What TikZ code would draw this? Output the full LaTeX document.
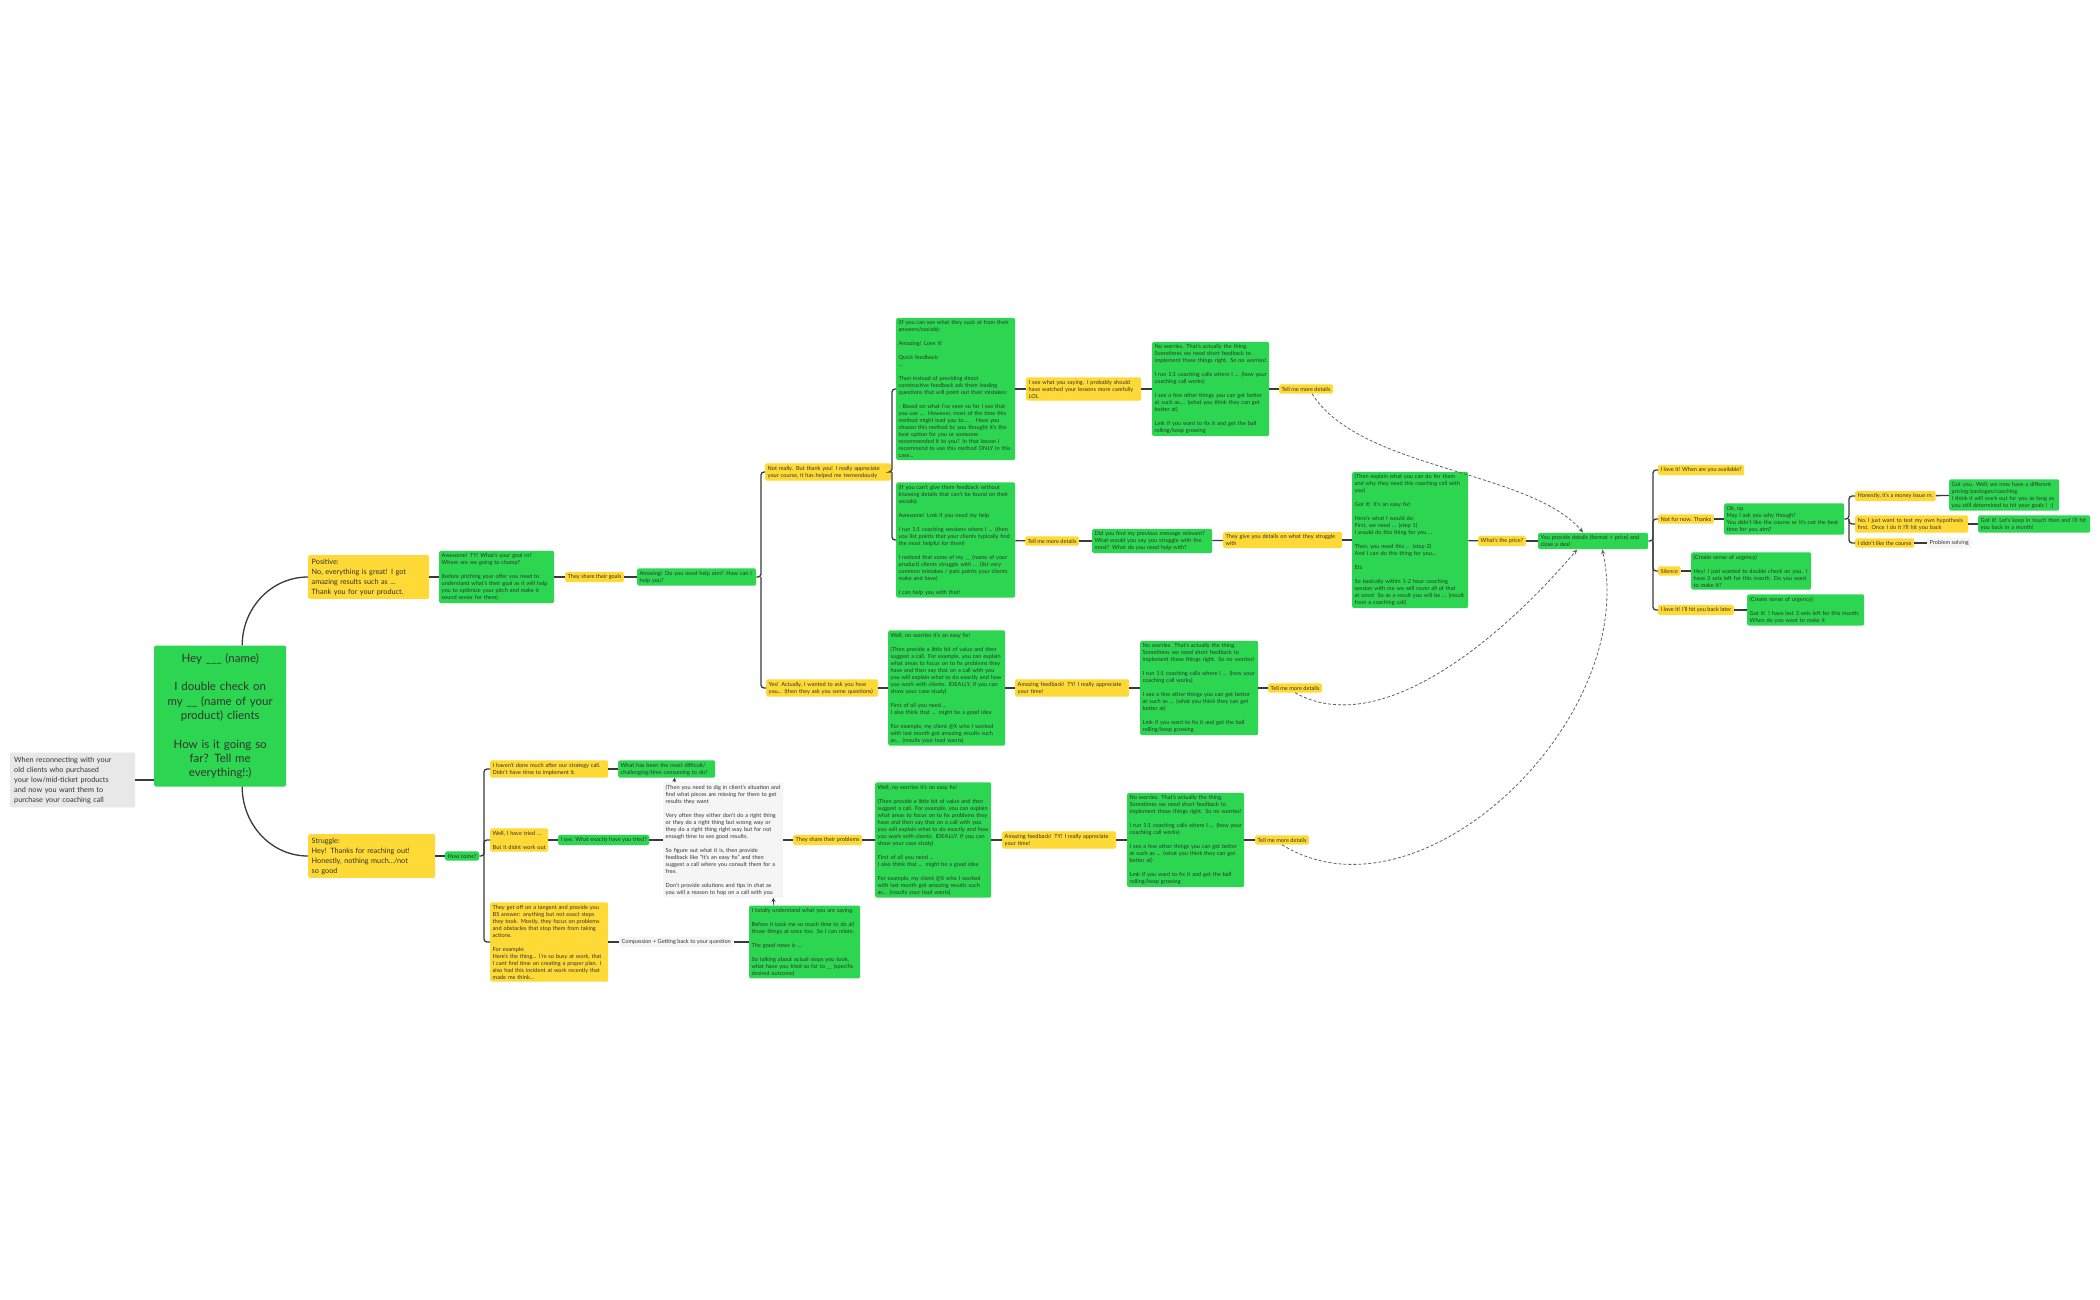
\documentclass[tikz,border=0pt]{standalone}
\usepackage{fontspec}
\usepackage[none]{hyphenat}
\setmainfont{Lato}
\usetikzlibrary{arrows.meta}
\definecolor{mmgreen}{HTML}{2CD650}
\definecolor{mmyellow}{HTML}{FFD935}
\definecolor{mmgray}{HTML}{E8E8E8}
\definecolor{mmlight}{HTML}{F5F5F5}
\definecolor{mmtext}{HTML}{333333}
\definecolor{mmline}{HTML}{3A3A3A}
\newcommand{\gapl}{\\[\baselineskip]}
\tikzset{
 box/.style={anchor=west,rounded corners=1.5pt,align=left,inner xsep=2.5pt,inner ysep=2.5pt,text=mmtext,font=\fontsize{5.6}{7}\selectfont},
 gbox/.style={box,fill=mmgreen},
 ybox/.style={box,fill=mmyellow},
 nbox/.style={box,fill=mmlight},
 bigy/.style={ybox,font=\fontsize{7.3}{10}\selectfont,inner xsep=3.5pt,inner ysep=3.5pt},
 link/.style={draw=mmline,line width=1.3pt,rounded corners=3pt},
 dlink/.style={draw=mmline!80,line width=0.8pt,dash pattern=on 3pt off 2pt,-{Stealth[length=5pt,width=4pt]}},
 slink/.style={draw=mmline,line width=0.7pt,-{Stealth[length=4pt,width=4pt]}}
}
\begin{document}
\begin{tikzpicture}[x=1pt,y=-1pt]
\useasboundingbox[fill=white] (0,0) rectangle (2100,1300);
% root area
\node[box,fill=mmgray,font=\fontsize{7.3}{10}\selectfont,text width=117,inner xsep=4pt,inner ysep=4pt] (ctx) at (10,780) {When reconnecting with your\\old clients who purchased\\your low/mid-ticket products\\and now you want them to\\purchase your coaching call};
\node[gbox,align=center,text width=127,minimum height=141,font=\fontsize{11.5}{14.3}\selectfont] (root) at (154,716) {Hey \_\_\_ (name)\gapl I double check on\\my \_\_ (name of your\\product) clients\gapl How is it going so\\far? Tell me\\everything!:)};
\node[bigy,text width=114] (pos) at (308,577) {Positive:\\No, everything is great! I got\\amazing results such as ...\\Thank you for your product.};
\node[bigy,text width=120] (str) at (308,856) {Struggle:\\Hey! Thanks for reaching out!\\Honestly, nothing much.../not\\so good};
% positive branch
\node[gbox,text width=110] (awe) at (439,577) {Awesome! TY! What's your goal rn?\\Where are we going to champ?\gapl (before pitching your offer you need to understand what's their goal as it will help you to optimize your pitch and make it sound sexier for them)};
\node[ybox] (goals) at (565,577) {They share their goals};
\node[gbox,text width=114] (amaz) at (637,577) {Amazing! Do you need help atm? How can I help you?};
\node[ybox,text width=121] (notr) at (765,472) {Not really. But thank you! I really appreciate your course, it has helped me tremendously};
\node[ybox,text width=107] (yes) at (766,688) {Yes! Actually, I wanted to ask you how you... (then they ask you some questions)};
\node[gbox,text width=114] (g1) at (896,389) {(If you can see what they suck at from their answers/socials):\gapl Amazing! Love it!\gapl Quick feedback:\\...\gapl Then instead of providing direct\\constructive feedback ask them leading questions that will point out their mistakes:\gapl - Based on what I've seen so far I see that you use .... However, most of the time this method might lead you to.... . Have you chosen this method bc you thought it's the best option for you or someone\\recommended it to you? In that lesson I recommend to use this method ONLY in this case...};
\node[ybox,text width=110] (isee) at (1026,389) {I see what you saying. I probably should have watched your lessons more carefully LOL};
\node[gbox,text width=112] (nw1) at (1152,389) {No worries. That's actually the thing.\\Sometimes we need short feedback to implement these things right. So no worries!\gapl I run 1:1 coaching calls where I ... (how your coaching call works)\gapl I see a few other things you can get better at such as.... (what you think they can get better at)\gapl Lmk if you want to fix it and get the ball rolling/keep growing};
\node[ybox] (tm1) at (1279,389) {Tell me more details};
\node[gbox,text width=114] (g2) at (896,540) {(If you can't give them feedback without knowing details that can't be found on their socials):\gapl Awesome! Lmk if you need my help\gapl I run 1:1 coaching sessions where I ... (then you list points that your clients typically find the most helpful for them)\gapl I noticed that some of my \_\_ (name of your product) clients struggle with ... (list very common mistakes / pain points your clients make and have)\gapl I can help you with that!};
\node[ybox] (tm2) at (1025,541) {Tell me more details};
\node[gbox,text width=115] (did) at (1092,541) {Did you find my previous message relevant? What would you say you struggle with the most? What do you need help with?};
\node[ybox,text width=114] (give) at (1223,540) {They give you details on what they struggle with};
\node[gbox,text width=111] (expl) at (1352,540) {(Then explain what you can do for them and why they need this coaching call with you)\gapl Got it! It's an easy fix!\gapl Here's what I would do:\\First, we need ... (step 1)\\I would do this thing for you ...\gapl Then, you need this ... (step 2)\\And I can do this thing for you...\gapl Etc\gapl So basically within 1-2 hour coaching session with me we will cover all of that at once! So as a result you will be ... (result from a coaching call)};
\node[ybox] (price) at (1478,541) {What's the price?};
\node[gbox,text width=105] (prov) at (1538,541) {You provide details (format + price) and close a deal};
% right
\node[ybox] (love) at (1658,470) {I love it! When are you available?};
\node[ybox] (notnow) at (1658,519) {Not for now. Thanks};
\node[gbox,text width=115] (oknp) at (1724,519) {Ok, np\\May I ask you why though?\\You didn't like the course or it's not the best time for you atm?};
\node[ybox] (money) at (1855,496) {Honestly, it's a money issue rn.};
\node[gbox,text width=105] (gotyou) at (1949,495) {Got you. Well, we now have a different pricing/packages/coaching\\I think it will work out for you as long as you still determined to hit your goals ! ;)};
\node[ybox,text width=108] (test) at (1855,524) {No, I just want to test my own hypothesis first. Once I do it I'll hit you back};
\node[gbox,text width=107] (keep) at (1978,524) {Got it! Let's keep in touch then and I'll hit you back in a month!};
\node[ybox] (didnt) at (1855,543) {I didn't like the course};
\node[nbox] (prob) at (1927,543) {Problem solving};
\node[ybox] (sil) at (1658,571) {Silence};
\node[gbox,text width=115] (urg1) at (1691,571) {(Create sense of urgency)\gapl Hey! I just wanted to double check on you. I have 3 sets left for this month. Do you want to make it?};
\node[ybox] (later) at (1658,610) {I love it! I'll hit you back later};
\node[gbox,text width=112] (urg2) at (1747,610) {(Create sense of urgency)\gapl Got it! I have last 3 sets left for this month. When do you want to make it};
% yes chain
\node[gbox,text width=112] (wellno) at (888,688) {Well, no worries it's an easy fix!\gapl (Then provide a little bit of value and then suggest a call. For example, you can explain what areas to focus on to fix problems they have and then say that on a call with you you will explain what to do exactly and how you work with clients. IDEALLY, if you can show your case study)\gapl First of all you need ...\\I also think that ... might be a good idea\gapl For example, my client @X who I worked with last month got amazing results such as... (results your lead wants)};
\node[ybox,text width=109] (amfb) at (1015,688) {Amazing feedback! TY! I really appreciate your time!};
\node[gbox,text width=113] (nw2) at (1140,688) {No worries. That's actually the thing.\\Sometimes we need short feedback to implement these things right. So no worries!\gapl I run 1:1 coaching calls where I ... (how your coaching call works)\gapl I see a few other things you can get better at such as ... (what you think they can get better at)\gapl Lmk if you want to fix it and get the ball rolling/keep growing};
\node[ybox] (tm3) at (1268,688) {Tell me more details};
% struggle chain
\node[gbox] (howc) at (445,856) {How come?};
\node[ybox,text width=113] (hav) at (490,769) {I haven't done much after our strategy call. Didn't have time to implement it.};
\node[gbox,text width=92] (diff) at (618,769) {What has been the most difficult/ challenging/time consuming to do?};
\node[ybox,text width=53] (tried) at (490,840) {Well, I have tried ...\gapl But it didnt work out};
\node[gbox] (isee2) at (558,840) {I see. What exactly have you tried?};
\node[nbox,text width=115] (dig) at (663,840) {(Then you need to dig in client's situation and find what pieces are missing for them to get results they want\gapl Very often they either don't do a right thing or they do a right thing but wrong way or they do a right thing right way but for not enough time to see good results.\gapl So figure out what it is, then provide feedback like "It's an easy fix" and then suggest a call where you consult them for a free.\gapl Don't provide solutions and tips in chat as you will a reason to hop on a call with you};
\node[ybox] (share) at (793,840) {They share their problems};
\node[ybox,text width=113] (tang) at (490,942) {They get off on a tangent and provide you BS answer: anything but not exact steps they took. Mostly, they focus on problems and obstacles that stop them from taking actions.\gapl For example:\\Here's the thing... I'm so busy at work, that I cant find time on creating a proper plan. I also had this incident at work recently that made me think...};
\node[nbox] (comp) at (619,942) {Compassion + Getting back to your question};
\node[gbox,text width=106] (tot) at (749,942) {I totally understand what you are saying.\gapl Before it took me so much time to do all those things at once too. So I can relate.\gapl The good news is ...\gapl So talking about actual steps you took, what have you tried so far to \_\_ (specific desired outcome)};
\node[gbox,text width=111] (wellno2) at (875,840) {Well, no worries it's an easy fix!\gapl (Then provide a little bit of value and then suggest a call. For example, you can explain what areas to focus on to fix problems they have and then say that on a call with you you will explain what to do exactly and how you work with clients. IDEALLY, if you can show your case study)\gapl First of all you need ...\\I also think that ... might be a good idea\gapl For example, my client @X who I worked with last month got amazing results such as... (results your lead wants)};
\node[ybox,text width=109] (amfb2) at (1002,840) {Amazing feedback! TY! I really appreciate your time!};
\node[gbox,text width=112] (nw3) at (1127,840) {No worries. That's actually the thing.\\Sometimes we need short feedback to implement these things right. So no worries!\gapl I run 1:1 coaching calls where I ... (how your coaching call works)\gapl I see a few other things you can get better at such as ... (what you think they can get better at)\gapl Lmk if you want to fix it and get the ball rolling/keep growing};
\node[ybox] (tm4) at (1255,840) {Tell me more details};
% branch coordinates
\coordinate (b1) at (761,0);
\coordinate (b2) at (892,0);
\coordinate (b3) at (1653,0);
\coordinate (b4) at (1849,0);
\coordinate (b5) at (484,0);
% links
\draw[link] (ctx.east) -- (root.west |- ctx.east);
\draw[link] ([xshift=22pt]root.north) to[out=90,in=180] (pos.west);
\draw[link] ([xshift=22pt]root.south) to[out=-90,in=180] (str.west);
\draw[link] (pos) -- (awe); \draw[link] (awe) -- (goals); \draw[link] (goals) -- (amaz);
\draw[link] (amaz.east) -- (b1 |- amaz.east) |- (notr.west);
\draw[link] (b1 |- amaz.east) |- (yes.west);
\draw[link] (notr.east) -- (b2 |- notr.east) |- (g1.west);
\draw[link] (b2 |- notr.east) |- (g2.west);
\draw[link] (g1) -- (isee); \draw[link] (isee) -- (nw1); \draw[link] (nw1) -- (tm1);
\draw[link] (g2) -- (tm2); \draw[link] (tm2) -- (did); \draw[link] (did) -- (give); \draw[link] (give) -- (expl); \draw[link] (expl) -- (price); \draw[link] (price) -- (prov);
\draw[link] (prov.east) -- (b3 |- prov.east) |- (love.west);
\draw[link] (b3 |- prov.east) |- (notnow.west);
\draw[link] (b3 |- prov.east) |- (sil.west);
\draw[link] (b3 |- prov.east) |- (later.west);
\draw[link] (notnow) -- (oknp);
\draw[link] (oknp.east) -- (b4 |- oknp.east) |- (money.west);
\draw[link] (b4 |- oknp.east) |- (test.west);
\draw[link] (b4 |- oknp.east) |- (didnt.west);
\draw[link] (money) -- (gotyou); \draw[link] (test) -- (keep); \draw[link] (didnt) -- (prob);
\draw[link] (sil) -- (urg1); \draw[link] (later) -- (urg2);
\draw[link] (yes) -- (wellno); \draw[link] (wellno) -- (amfb); \draw[link] (amfb) -- (nw2); \draw[link] (nw2) -- (tm3);
\draw[link] (str) -- (howc);
\draw[link] (howc.east) -- (b5 |- howc.east) |- (hav.west);
\draw[link] (b5 |- howc.east) |- (tried.west);
\draw[link] (b5 |- howc.east) |- (tang.west);
\draw[link] (hav) -- (diff);
\draw[link] (tried) -- (isee2); \draw[link] (isee2) -- (dig); \draw[link] (dig) -- (share); \draw[link] (share) -- (wellno2);
\draw[link] (wellno2) -- (amfb2); \draw[link] (amfb2) -- (nw3); \draw[link] (nw3) -- (tm4);
\draw[link] (tang) -- (comp); \draw[link] (comp) -- (tot);
\draw[slink] ([xshift=-31pt]tot.north) -- ([xshift=50pt]dig.south);
\draw[slink] ([xshift=-49pt]dig.north) -- ([xshift=8pt]diff.south);
% dashed
\draw[dlink] ([xshift=6pt]tm1.south) .. controls (1360,470) and (1530,470) .. ([xshift=-10pt]prov.north);
\draw[dlink] (tm3.south) .. controls (1380,740) and (1500,640) .. ([xshift=-16pt]prov.south);
\draw[dlink] (tm4.south) .. controls (1420,930) and (1640,720) .. ([xshift=9pt]prov.south);
\end{tikzpicture}
\end{document}
